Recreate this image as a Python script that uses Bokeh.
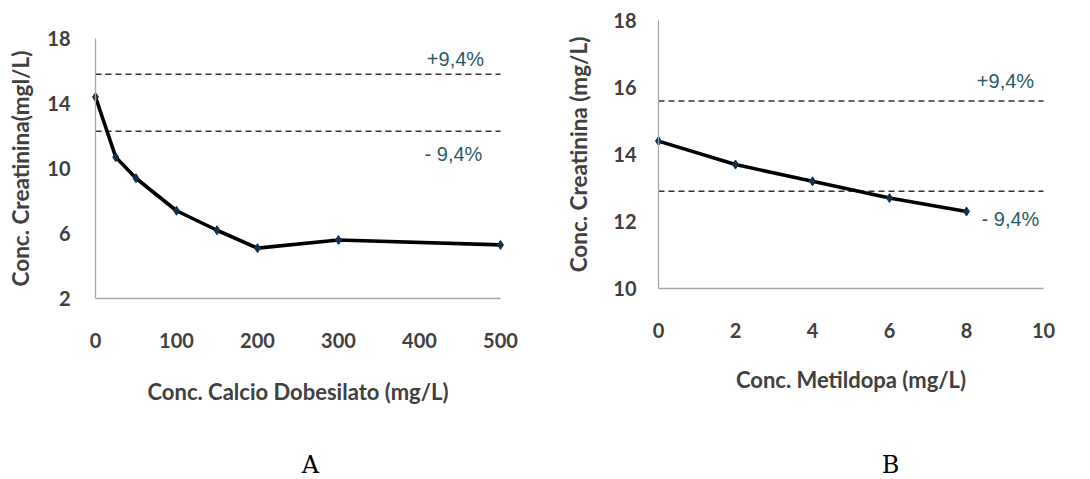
from bokeh.plotting import figure
from bokeh.layouts import row
from bokeh.models import Range1d, FixedTicker, Label
from bokeh.embed import file_html
from bokeh.resources import INLINE

# Panel A data
a_x = [0, 25, 50, 100, 150, 200, 300, 500]
a_y = [14.4, 10.7, 9.4, 7.4, 6.2, 5.1, 5.6, 5.3]
a_upper = 15.8
a_lower = 12.3
a_xticks = [0, 100, 200, 300, 400, 500]
a_yticks = [2, 6, 10, 14, 18]

# Panel B data
b_x = [0, 2, 4, 6, 8]
b_y = [14.4, 13.7, 13.2, 12.7, 12.3]
b_upper = 15.6
b_lower = 12.9
b_xticks = [0, 2, 4, 6, 8, 10]
b_yticks = [10, 12, 14, 16, 18]

band_labels = ["+9,4%", "- 9,4%"]
panel_names = ["A", "B"]

TXT = "#404040"
FONT = "Lato"
OFFSET = 0   # Bokeh's page template sets body margin to 0
H = 479


def lin(v0, p0, v1, p1):
    """map page pixel -> data value"""
    return lambda p: v0 + (p - p0) * (v1 - v0) / (p1 - p0)


def make_panel(xs, ys, upper, lower, xticks, yticks, left_px, width,
               xcal, ycal, xlabel, ylabel, xstand, ystand, xlstand, ylstand,
               up_px, lo_px, panel_px, panel_name):
    fx = lin(*xcal)
    fy = lin(*ycal)
    top_px, bot_px = OFFSET, OFFSET + H
    p = figure(width=width, height=H, output_backend="svg", toolbar_location=None,
               x_range=Range1d(fx(left_px), fx(left_px + width)),
               y_range=Range1d(fy(bot_px), fy(top_px)),
               min_border=0, min_border_left=0, min_border_right=0,
               min_border_top=0, min_border_bottom=0)
    p.outline_line_color = None
    p.xgrid.visible = False
    p.ygrid.visible = False

    xa, ya = p.xaxis[0], p.yaxis[0]
    for ax in (xa, ya):
        ax.axis_line_color = "#a6a6a6"
        ax.axis_line_width = 1.3
        ax.major_tick_line_color = None
        ax.minor_tick_line_color = None
        ax.major_label_text_font = FONT
        ax.major_label_text_font_style = "bold"
        ax.major_label_text_font_size = "20px"
        ax.major_label_text_color = TXT
        ax.axis_label_text_font = FONT
        ax.axis_label_text_font_style = "bold"
        ax.axis_label_text_color = TXT
    xa.axis_label_text_font_size = "22px"
    ya.axis_label_text_font_size = "22.5px"

    xa.ticker = FixedTicker(ticks=xticks)
    ya.ticker = FixedTicker(ticks=yticks)
    xa.bounds = (xticks[0], xticks[-1])
    ya.bounds = (yticks[0], yticks[-1])
    xa.fixed_location = yticks[0]
    ya.fixed_location = xticks[0]
    xa.axis_label = xlabel
    ya.axis_label = ylabel
    xa.major_label_standoff = xstand
    ya.major_label_standoff = ystand
    xa.axis_label_standoff = xlstand
    ya.axis_label_standoff = ylstand

    for lvl in (upper, lower):
        p.segment(x0=xticks[0], y0=lvl, x1=xticks[-1], y1=lvl, line_color="#333333",
                  line_width=1.5, line_dash="6 4")

    p.line(xs, ys, line_color="black", line_width=3.6)
    p.scatter(xs, ys, marker="diamond", size=9, color="#14304a")

    for txt, pos in zip(band_labels, (up_px, lo_px)):
        p.add_layout(Label(x=fx(pos[0]), y=fy(pos[1]), text=txt, text_align="center",
                           text_baseline="middle", text_font="Liberation Sans",
                           text_font_size="20px", text_color="#2b5b68"))

    p.add_layout(Label(x=fx(panel_px[0]), y=fy(panel_px[1]), text=panel_name,
                       text_align="center", text_baseline="middle",
                       text_font="DejaVu Serif", text_font_size="24px",
                       text_color="black"))
    return p


pa = make_panel(a_x, a_y, a_upper, a_lower, a_xticks, a_yticks, OFFSET, 540,
                (0, 95, 500, 500), (18, 38, 2, 298),
                "Conc. Calcio Dobesilato (mg/L)", "Conc. Creatinina(mgl/L)",
                28, 19, 27, 10,
                (455, 58), (453, 153), (310, 464), panel_names[0])

pb = make_panel(b_x, b_y, b_upper, b_lower, b_xticks, b_yticks, OFFSET + 540, 550,
                (0, 658, 10, 1043), (18, 20, 10, 288),
                "Conc. Metildopa (mg/L)", "Conc. Creatinina (mg/L)",
                28, 16, 25, 18,
                (1005, 80), (1010, 218), (890, 464), panel_names[1])

layout = row(pa, pb)
open("out.html", "w").write(file_html(layout, INLINE))
